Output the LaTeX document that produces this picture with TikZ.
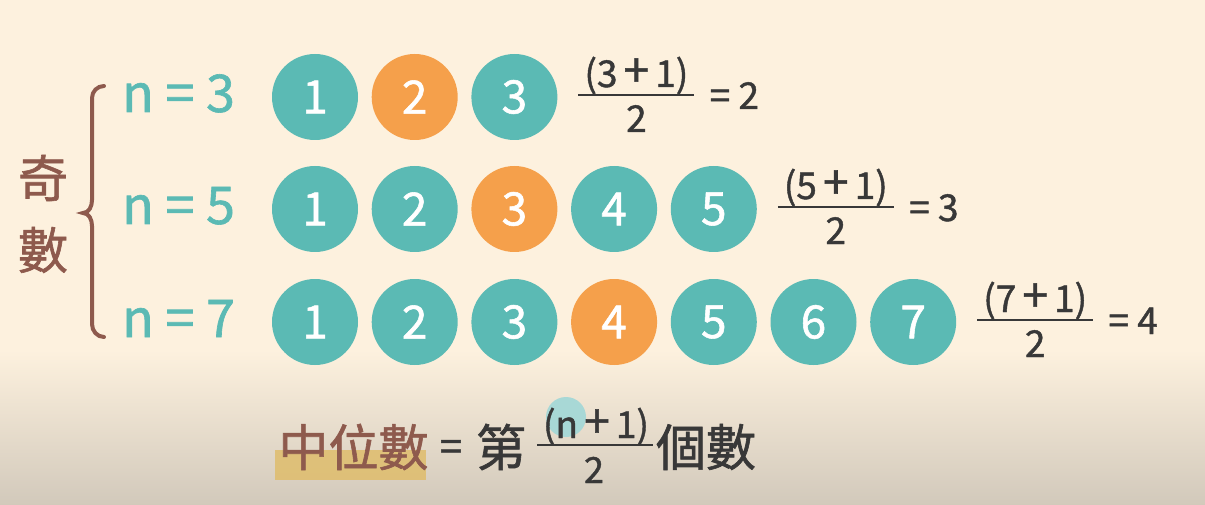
\documentclass[tikz,border=0pt]{standalone}
\usepackage{fontspec}
\setmainfont{Noto Sans CJK TC}[FakeBold=1.2]
\usetikzlibrary{positioning,calc}
\definecolor{cBg}{HTML}{FDF1DE}
\definecolor{cBgLow}{HTML}{D2C9BB}
\definecolor{cTeal}{HTML}{5BBAB4}
\definecolor{cOrange}{HTML}{F5A04B}
\definecolor{cBrown}{HTML}{8E5A4D}
\definecolor{cInk}{HTML}{383838}
\definecolor{cMark}{HTML}{DFBD6C}
\definecolor{cDot}{HTML}{A8D8D6}
\newcommand{\bplus}{\,{\fontsize{46}{46}\selectfont+}\,}

\begin{document}
\begin{tikzpicture}[
    x=1pt, y=-1pt,
    ball/.style={circle, minimum size=86pt, inner sep=0pt, fill=cTeal, text=white, font=\fontsize{46}{46}\selectfont},
    nlab/.style={anchor=base west, inner sep=0pt, text=cTeal, font=\fontsize{52}{52}\selectfont},
    fnum/.style={anchor=base, inner sep=0pt, text=cInk, font=\fontsize{37}{37}\selectfont},
    fbar/.style={line width=2.8pt, cInk},
    cjk/.style={inner sep=0pt, font=\fontsize{50}{50}\selectfont}
]
\useasboundingbox (0,0) rectangle (1205,505);
\fill[cBg] (0,0) rectangle (1205,505);
\shade[top color=cBg, bottom color=cBgLow] (0,350) rectangle (1205,505);

% odd label and brace
\node[cjk, text=cBrown] (odd1) at (43,178) {奇};
\node[cjk, text=cBrown] (odd2) at (43,250) {數};
\draw[cBrown, line width=4pt, line cap=round]
  (104,86) to[out=180,in=90] (92,98) -- (92,200) to[out=-90,in=0] (83,213)
  to[out=0,in=90] (92,226) -- (92,324) to[out=-90,in=180] (104,337);

% rows of balls
\foreach \n/\y/\m in {3/97/2, 5/209/3, 7/322/4} {
  \node[nlab] (n\n) at (122,\y+15) {n = \n};
  \foreach \k in {1,...,\n} {
    \ifnum\k=\m \def\fc{cOrange}\else \def\fc{cTeal}\fi
    \node[ball, fill=\fc] (c\n-\k) at (315+99.7*\k-99.7,\y) {\k};
  }
  \pgfmathsetmacro{\cx}{315+99.7*\n-99.7+122}
  \node[fnum] (fn\n) at (\cx,\y-10) {(\n\bplus1)};
  \coordinate (fl\n) at (\cx-58,\y-2);
  \coordinate (fr\n) at (\cx+58,\y-2);
  \draw[fbar] (fl\n) -- (fr\n);
  \node[fnum] (fd\n) at (\cx,\y+35) {2};
  \node[fnum] (eq\n) at (\cx+98,\y+12) {= \m};
}

% median formula
\node[fill=cMark, opacity=0.85, minimum width=151pt, minimum height=30pt, inner sep=0pt] (mark) at (350.5,465) {};
\node[cjk, text=cBrown] (med) at (353.5,447) {中位數};
\node[fnum, font=\fontsize{40}{40}\selectfont] (eqm) at (451,461) {=};
\node[cjk, text=cInk] (di) at (501,447) {第};
\node[circle, fill=cDot, minimum size=40pt, inner sep=0pt] (ndot) at (566,417) {};
\node[fnum, font=\fontsize{37}{37}\selectfont] (fnm) at (596,438) {(n\bplus1)};
\coordinate (flm) at (537,445);
\coordinate (frm) at (653,445);
\draw[fbar] (flm) -- (frm);
\node[fnum, font=\fontsize{36}{36}\selectfont] (fdm) at (594,483) {2};
\node[cjk, text=cInk] (ge) at (706,447) {個數};
\end{tikzpicture}
\end{document}
